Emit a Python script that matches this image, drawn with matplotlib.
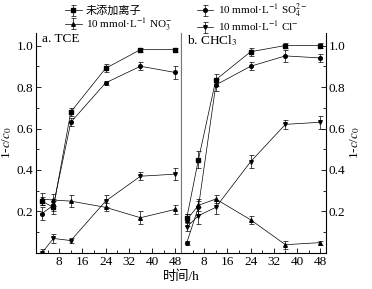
import matplotlib.pyplot as plt
from matplotlib.ticker import MultipleLocator

plt.rcParams['font.family'] = ['Liberation Serif', 'Noto Sans CJK SC']
plt.rcParams['mathtext.fontset'] = 'stix'
plt.rcParams['font.size'] = 9.5

# 时间 (h)
t = [2, 6, 12, 24, 36, 48]

labels = ['未添加离子',
          '10 mmol·L$^{-1}$ NO$_3^{-}$',
          '10 mmol·L$^{-1}$ SO$_4^{2-}$',
          '10 mmol·L$^{-1}$ Cl$^{-}$']
markers = ['s', '^', 'o', 'v']

# a. TCE
tce_none = [0.25, 0.22, 0.68, 0.89, 0.98, 0.98]
tce_no3 = [0.26, 0.255, 0.25, 0.22, 0.17, 0.21]
tce_so4 = [0.19, 0.23, 0.63, 0.82, 0.90, 0.87]
tce_cl = [0.00, 0.07, 0.06, 0.25, 0.37, 0.38]
tce_err = [[0.02, 0.03, 0.02, 0.02, 0.01, 0.01],
           [0.03, 0.03, 0.03, 0.02, 0.03, 0.02],
           [0.03, 0.03, 0.02, 0.01, 0.02, 0.03],
           [0.02, 0.02, 0.01, 0.03, 0.02, 0.03]]

# b. CHCl3
chcl3_none = [0.17, 0.45, 0.835, 0.97, 1.00, 1.00]
chcl3_no3 = [0.16, 0.23, 0.26, 0.16, 0.04, 0.05]
chcl3_so4 = [0.05, 0.22, 0.81, 0.90, 0.95, 0.94]
chcl3_cl = [0.125, 0.18, 0.22, 0.44, 0.62, 0.63]
chcl3_err = [[0.02, 0.04, 0.03, 0.02, 0.01, 0.01],
             [0.03, 0.03, 0.02, 0.02, 0.02, 0.01],
             [0.01, 0.03, 0.03, 0.02, 0.03, 0.02],
             [0.02, 0.04, 0.03, 0.03, 0.02, 0.03]]

fig = plt.figure(figsize=(3.72, 2.89), dpi=100)
ax1 = fig.add_axes([0.0968, 0.1246, 0.3898, 0.761])
ax2 = fig.add_axes([0.4866, 0.1246, 0.3898, 0.761])

for ax, data, errs in [(ax1, [tce_none, tce_no3, tce_so4, tce_cl], tce_err),
                       (ax2, [chcl3_none, chcl3_no3, chcl3_so4, chcl3_cl], chcl3_err)]:
    for y, e, m, lab in zip(data, errs, markers, labels):
        ax.errorbar(t, y, yerr=e, color='black', lw=0.5, marker=m, ms=2.6,
                    elinewidth=0.5, capsize=1.8, capthick=0.5, label=lab)
    ax.set_xlim(0, 50)
    ax.set_ylim(0, 1.06)
    ax.spines['top'].set_visible(False)
    for s in ax.spines.values():
        s.set_linewidth(0.8)
    ax.xaxis.set_minor_locator(MultipleLocator(4))
    ax.yaxis.set_minor_locator(MultipleLocator(0.1))
    ax.tick_params(which='both', direction='in', top=False, width=0.6, pad=2)
    ax.tick_params(which='major', length=3.5)
    ax.tick_params(which='minor', length=2)
    ax.set_xticks([8, 16, 24, 32, 40, 48])
    ax.set_yticks([0.2, 0.4, 0.6, 0.8, 1.0])
    ax.set_yticklabels(['0.2', '0.4', '0.6', '0.8', '1.0'])

ax1.tick_params(axis='y', which='both', left=True, right=False)
ax2.tick_params(axis='y', which='both', left=False, right=True, labelleft=False, labelright=True)
ax2.spines['left'].set_color('#777777')
ax1.spines['right'].set_color('#777777')

ax1.set_ylabel('1-$c$/$c_0$', labelpad=2)
ax2.yaxis.set_label_position('right')
ax2.set_ylabel('1-$c$/$c_0$', labelpad=2)

ax1.text(0.04, 1.0, 'a. TCE', transform=ax1.transAxes, va='top', ha='left')
ax2.text(0.04, 1.0, 'b. CHCl$_3$', transform=ax2.transAxes, va='top', ha='left')

fig.text(0.4866, 0.02, '时间/h', ha='center', va='bottom')

handles, labs = ax1.get_legend_handles_labels()
fig.legend(handles, labs, ncol=2, loc='upper center', bbox_to_anchor=(0.5, 1.02),
           frameon=False, fontsize=8, handlelength=1.5, handletextpad=0.4,
           columnspacing=2.2, labelspacing=0.0, borderpad=0.2)

fig.savefig('out.png', dpi=100)
